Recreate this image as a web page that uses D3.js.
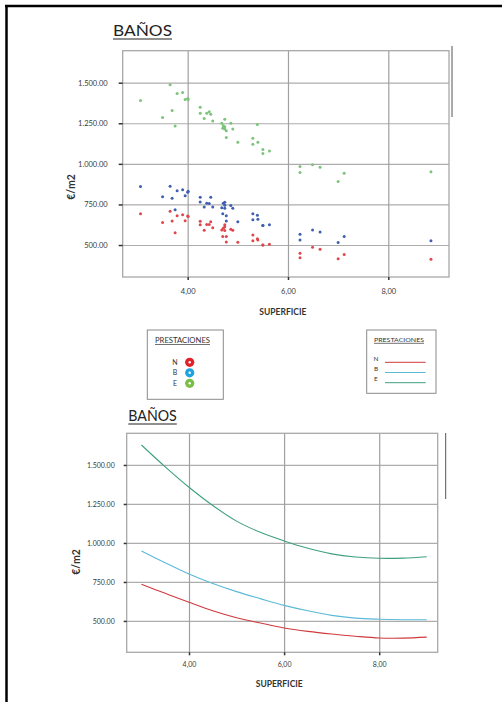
<!DOCTYPE html>
<html>
<head>
<meta charset="utf-8">
<script src="https://cdn.jsdelivr.net/npm/d3@7"></script>
<style>
  body { margin: 0; background: #fff; }
  svg { display: block; font-family: Lato, "Open Sans", sans-serif; }
</style>
</head>
<body>
<svg id="chart"></svg>
<script>
// superficie (m2) of each sample, shared by the three prestaciones
const superficie = [3.06,3.50,3.65,3.69,3.75,3.79,3.90,3.95,4.00,4.01,4.25,4.25,4.33,4.38,4.43,4.46,4.50,4.68,4.70,4.71,4.74,4.74,4.74,4.77,4.77,4.86,4.90,5.00,5.30,5.30,5.39,5.40,5.50,5.50,5.63,6.24,6.24,6.49,6.64,7.00,7.12,8.85];
const precioN = [693,638,708,648,576,681,687,650,679,675,646,625,591,627,627,644,607,593,552,603,625,613,589,552,519,597,591,517,562,527,539,531,500,500,504,449,422,486,474,416,441,412];
const precioB = [860,798,862,788,718,835,841,804,825,831,794,765,734,757,755,794,734,730,693,757,763,745,726,681,648,743,726,644,693,656,683,658,621,621,625,566,531,593,580,515,552,527];
const precioE = [1391,1286,1488,1328,1233,1434,1440,1397,1403,1397,1348,1311,1280,1311,1321,1305,1264,1250,1219,1235,1274,1215,1228,1204,1163,1250,1215,1133,1157,1120,1243,1133,1089,1063,1079,983,946,995,979,892,942,952];

// fitted curves (lower chart)
const curvaX = [3,3.5,4,4.5,5,5.5,6,6.5,7,7.5,8,8.5,9];
const curvaN = [735,677,620,566,521,487,455,433,416,402,391,390,396];
const curvaB = [949,873,801,740,688,643,600,565,536,518,511,508,508];
const curvaE = [1628,1488,1357,1240,1140,1068,1013,966,930,910,902,903,912];

const categorias = ["N", "B", "E"];
const xTicks = [4, 6, 8];
const yTicks = [500, 750, 1000, 1250, 1500];

const dotColors = {N: "#e0474c", B: "#3f5fb0", E: "#7cc47a"};
const legDotColors = {N: "#e3202a", B: "#1fa3e0", E: "#7abf45"};
const lineColors = {N: "#cf3a3e", B: "#5cb9d8", E: "#3fa07e"};

const fmtY = d => d >= 1000 ? `${Math.floor(d / 1000)}.${String(d % 1000).padStart(3, "0")}.00` : `${d}.00`;
const fmtX = d => d.toFixed(2).replace(".", ",");

const svg = d3.select("#chart").attr("width", 502).attr("height", 702);
svg.append("rect").attr("width", 502).attr("height", 702).attr("fill", "#fff");

// page border (left + top)
svg.append("line").attr("x1", 6.5).attr("x2", 6.5).attr("y1", 5).attr("y2", 702)
  .attr("stroke", "#000").attr("stroke-width", 2.5);
svg.append("line").attr("x1", 5).attr("x2", 502).attr("y1", 6).attr("y2", 6)
  .attr("stroke", "#000").attr("stroke-width", 2.5);

const drawPanel = (p) => {
  const x = d3.scaleLinear().domain(p.xDom).range([p.left, p.right]);
  const y = d3.scaleLinear().domain(p.yDom).range([p.bottom, p.top]);
  const w = p.right - p.left, h = p.bottom - p.top;

  // title
  svg.append("text").attr("x", p.titleX).attr("y", p.titleY)
    .attr("font-size", p.titleSize).attr("fill", "#222")
    .attr("textLength", p.titleW).attr("lengthAdjust", "spacingAndGlyphs")
    .text("BAÑOS");
  svg.append("line").attr("x1", p.titleX).attr("x2", p.titleX + p.titleW)
    .attr("y1", p.titleY + 3).attr("y2", p.titleY + 3).attr("stroke", "#222").attr("stroke-width", 1.2);

  // grid
  svg.append("g").attr("transform", `translate(${p.left},0)`)
    .call(d3.axisLeft(y).tickValues(yTicks).tickSize(-w).tickFormat(""))
    .call(g => g.select(".domain").remove())
    .call(g => g.selectAll("line").attr("stroke", "#adadad").attr("stroke-width", 1.2));
  svg.append("g").attr("transform", `translate(0,${p.bottom})`)
    .call(d3.axisBottom(x).tickValues(xTicks).tickSize(-h).tickFormat(""))
    .call(g => g.select(".domain").remove())
    .call(g => g.selectAll("line").attr("stroke", "#a0a0a0").attr("stroke-width", 1.2));

  svg.append("rect").attr("x", p.left).attr("y", p.top).attr("width", w).attr("height", h)
    .attr("fill", "none").attr("stroke", "#a8a8a8").attr("stroke-width", 1.3);

  // axes
  svg.append("g").attr("transform", `translate(${p.left},0)`)
    .call(d3.axisLeft(y).tickValues(yTicks).tickSize(p.yTick).tickPadding(p.yPad).tickFormat(fmtY))
    .call(g => g.select(".domain").remove())
    .call(g => g.selectAll("line").attr("stroke", "#333").attr("stroke-width", 1.5))
    .call(g => g.selectAll("text").attr("font-family", "Lato, sans-serif").attr("font-size", p.tickFont).attr("fill", "#3a3a3a"));
  svg.append("g").attr("transform", `translate(0,${p.bottom})`)
    .call(d3.axisBottom(x).tickValues(xTicks).tickSize(3).tickPadding(p.xPad).tickFormat(fmtX))
    .call(g => g.select(".domain").remove())
    .call(g => g.selectAll("line").attr("stroke", "#333").attr("stroke-width", 1.5))
    .call(g => g.selectAll("text").attr("font-family", "Lato, sans-serif").attr("font-size", p.tickFont).attr("fill", "#3a3a3a"));

  svg.append("text").attr("x", (p.left + p.right) / 2 - 3).attr("y", p.xTitleY)
    .attr("text-anchor", "middle").attr("font-size", 8.5).attr("font-weight", "bold").attr("fill", "#333")
    .text("SUPERFICIE");
  svg.append("text").attr("transform", `translate(${p.yTitleX},${p.yTitleY}) rotate(-90)`)
    .attr("text-anchor", "middle").attr("font-size", 10.5).attr("font-weight", "bold").attr("fill", "#333")
    .text("€/m2");

  // stray line to the right
  svg.append("line").attr("x1", p.markX).attr("x2", p.markX).attr("y1", p.markY0).attr("y2", p.markY1)
    .attr("stroke", "#555").attr("stroke-width", 1);

  return {x, y};
};

// --- upper chart: scatter
const upper = drawPanel({
  left: 122.7, right: 449, top: 50.7, bottom: 277,
  xDom: [2.705, 9.21], yDom: [303, 1697],
  titleX: 113, titleY: 36, titleW: 59, titleSize: 15,
  yTick: 4, yPad: 11, xPad: 9, tickFont: 7.5,
  xTitleY: 315, yTitleX: 75, yTitleY: 187,
  markX: 452, markY0: 46, markY1: 117
});

const series = {N: precioN, B: precioB, E: precioE};
categorias.forEach(c => {
  svg.append("g").selectAll("circle").data(superficie.map((s, i) => [s, series[c][i]]))
    .enter().append("circle")
    .attr("cx", d => upper.x(d[0]))
    .attr("cy", d => upper.y(d[1]))
    .attr("r", 1.5)
    .attr("fill", dotColors[c]);
});

// --- lower chart: curves
const lower = drawPanel({
  left: 126.7, right: 437.7, top: 433.3, bottom: 652.3,
  xDom: [2.69, 9.23], yDom: [299, 1703],
  titleX: 128.3, titleY: 421, titleW: 48.5, titleSize: 15,
  yTick: 3, yPad: 9, xPad: 7, tickFont: 7,
  xTitleY: 687, yTitleX: 80, yTitleY: 562,
  markX: 445.7, markY0: 433, markY1: 499
});

const curvas = {N: curvaN, B: curvaB, E: curvaE};
const line = d3.line().x(d => lower.x(d[0])).y(d => lower.y(d[1])).curve(d3.curveCatmullRom);
categorias.forEach(c => {
  svg.append("path").datum(curvaX.map((v, i) => [v, curvas[c][i]]))
    .attr("d", line).attr("fill", "none")
    .attr("stroke", lineColors[c]).attr("stroke-width", 1.1);
});

// --- legends
const leg1 = svg.append("g");
leg1.append("rect").attr("x", 147.3).attr("y", 330).attr("width", 76).attr("height", 69.3)
  .attr("fill", "#fff").attr("stroke", "#8a8a8a").attr("stroke-width", 1);
leg1.append("text").attr("x", 155).attr("y", 342.5).attr("font-size", 7).attr("fill", "#333")
  .attr("textLength", 55).attr("lengthAdjust", "spacingAndGlyphs").text("PRESTACIONES");
leg1.append("line").attr("x1", 155).attr("x2", 210).attr("y1", 344.5).attr("y2", 344.5).attr("stroke", "#333").attr("stroke-width", 0.7);
categorias.forEach((c, i) => {
  const yy = 362.3 + i * 10.5;
  leg1.append("text").attr("x", 175).attr("y", yy + 2.5).attr("text-anchor", "middle")
    .attr("font-size", 7).attr("fill", "#333").text(c);
  leg1.append("circle").attr("cx", 189.7).attr("cy", yy).attr("r", 4.6).attr("fill", legDotColors[c]);
  leg1.append("circle").attr("cx", 189.7).attr("cy", yy).attr("r", 1.2).attr("fill", "#fff");
});

const leg2 = svg.append("g");
leg2.append("rect").attr("x", 366.7).attr("y", 330).attr("width", 69.3).attr("height", 63.3)
  .attr("fill", "#fff").attr("stroke", "#8a8a8a").attr("stroke-width", 1);
leg2.append("text").attr("x", 374).attr("y", 341.5).attr("font-size", 6.5).attr("fill", "#333")
  .attr("textLength", 50).attr("lengthAdjust", "spacingAndGlyphs").text("PRESTACIONES");
leg2.append("line").attr("x1", 374).attr("x2", 424).attr("y1", 343.3).attr("y2", 343.3).attr("stroke", "#333").attr("stroke-width", 0.7);
categorias.forEach((c, i) => {
  const yy = 358.3 + i * 10.2;
  leg2.append("text").attr("x", 376).attr("y", yy + 2.3).attr("text-anchor", "middle")
    .attr("font-size", 6.5).attr("fill", "#333").text(c);
  leg2.append("line").attr("x1", 385).attr("x2", 425.7).attr("y1", yy + 4).attr("y2", yy + 4)
    .attr("stroke", lineColors[c]).attr("stroke-width", 1);
});
</script>
</body>
</html>
